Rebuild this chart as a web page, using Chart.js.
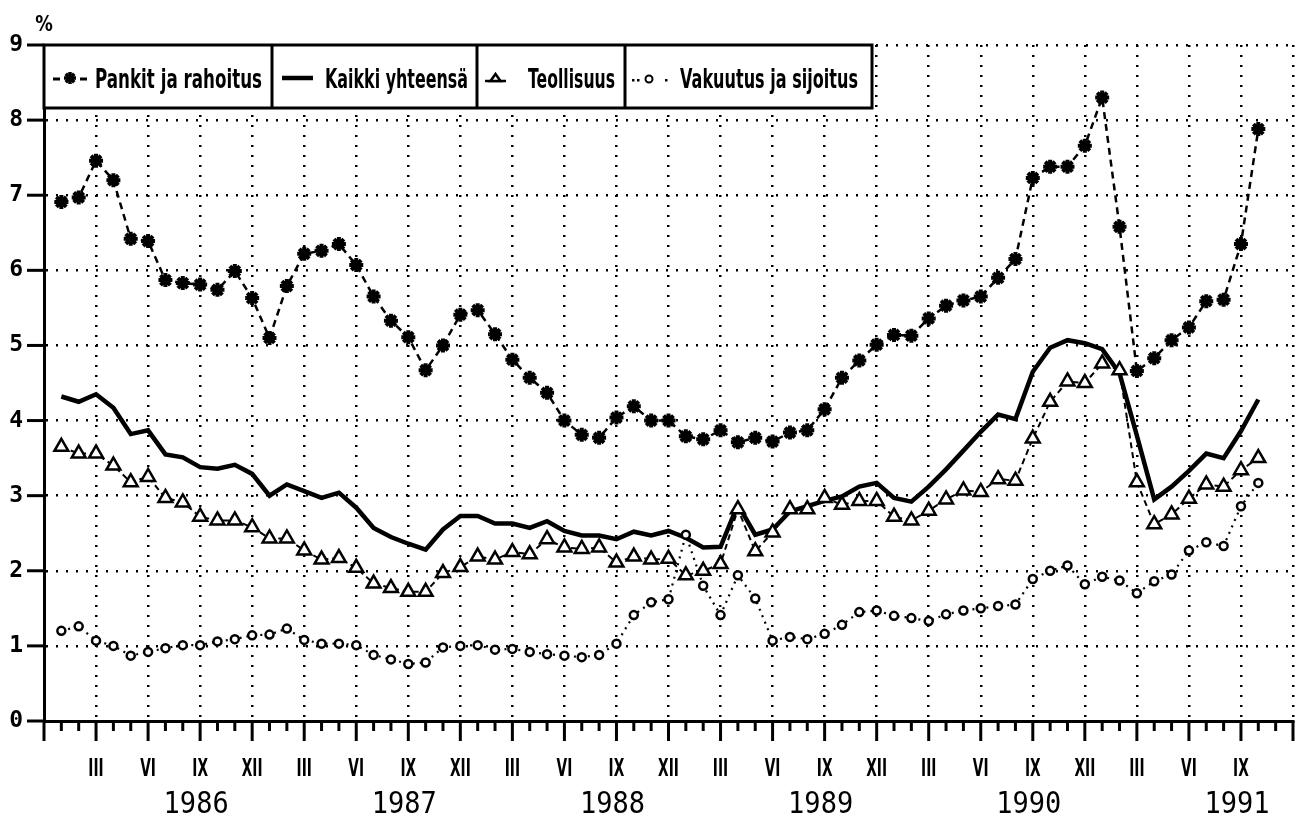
<!DOCTYPE html>
<html lang="fi">
<head>
  <meta charset="UTF-8">
  <title>Pankit ja rahoitus, Kaikki yhteensä, Teollisuus, Vakuutus ja sijoitus</title>
  <script src="https://cdn.jsdelivr.net/npm/chart.js"></script>
  <style>
    body { margin: 0; background: #fff; }
    #wrap { width: 1304px; height: 819px; position: relative; }
  </style>
</head>
<body>
  <div id="wrap"><canvas id="grafiikka"></canvas></div>

  <script>
    // kuukaudet 1/1986 - 10/1991
    const months = [
      '1986-01','1986-02','1986-03','1986-04','1986-05','1986-06','1986-07','1986-08','1986-09','1986-10','1986-11','1986-12',
      '1987-01','1987-02','1987-03','1987-04','1987-05','1987-06','1987-07','1987-08','1987-09','1987-10','1987-11','1987-12',
      '1988-01','1988-02','1988-03','1988-04','1988-05','1988-06','1988-07','1988-08','1988-09','1988-10','1988-11','1988-12',
      '1989-01','1989-02','1989-03','1989-04','1989-05','1989-06','1989-07','1989-08','1989-09','1989-10','1989-11','1989-12',
      '1990-01','1990-02','1990-03','1990-04','1990-05','1990-06','1990-07','1990-08','1990-09','1990-10','1990-11','1990-12',
      '1991-01','1991-02','1991-03','1991-04','1991-05','1991-06','1991-07','1991-08','1991-09','1991-10'
    ];

    const pankit = [
      6.91, 6.97, 7.46, 7.20, 6.42, 6.39, 5.87, 5.83, 5.81, 5.74, 5.99, 5.63,
      5.10, 5.79, 6.22, 6.26, 6.35, 6.07, 5.65, 5.33, 5.11, 4.67, 5.00, 5.41,
      5.47, 5.15, 4.81, 4.57, 4.37, 4.00, 3.81, 3.77, 4.04, 4.19, 4.00, 4.00,
      3.79, 3.75, 3.87, 3.71, 3.77, 3.72, 3.84, 3.87, 4.15, 4.57, 4.80, 5.01,
      5.14, 5.13, 5.36, 5.53, 5.60, 5.65, 5.90, 6.15, 7.23, 7.38, 7.38, 7.66,
      8.30, 6.58, 4.66, 4.83, 5.07, 5.24, 5.59, 5.61, 6.35, 7.88
    ];
    const kaikki = [
      4.32, 4.25, 4.35, 4.17, 3.82, 3.87, 3.55, 3.51, 3.38, 3.36, 3.41, 3.29,
      3.00, 3.15, 3.06, 2.97, 3.04, 2.84, 2.57, 2.45, 2.36, 2.28, 2.55, 2.73,
      2.73, 2.63, 2.63, 2.57, 2.66, 2.53, 2.47, 2.47, 2.42, 2.52, 2.47, 2.53,
      2.44, 2.31, 2.32, 2.88, 2.48, 2.55, 2.79, 2.86, 2.93, 2.99, 3.12, 3.17,
      2.97, 2.92, 3.12, 3.35, 3.60, 3.85, 4.08, 4.02, 4.65, 4.97, 5.07, 5.03,
      4.95, 4.63, 3.80, 2.95, 3.12, 3.33, 3.56, 3.50, 3.86, 4.28
    ];
    const teollisuus = [
      3.65, 3.56, 3.56, 3.40, 3.18, 3.25, 2.97, 2.91, 2.72, 2.67, 2.67, 2.58,
      2.43, 2.43, 2.27, 2.15, 2.17, 2.04, 1.83, 1.77, 1.72, 1.72, 1.97, 2.05,
      2.19, 2.15, 2.25, 2.22, 2.42, 2.31, 2.29, 2.31, 2.11, 2.19, 2.15, 2.16,
      1.94, 2.00, 2.09, 2.82, 2.26, 2.51, 2.82, 2.82, 2.97, 2.88, 2.93, 2.93,
      2.72, 2.67, 2.80, 2.95, 3.07, 3.05, 3.22, 3.20, 3.76, 4.25, 4.52, 4.50,
      4.76, 4.67, 3.18, 2.62, 2.75, 2.96, 3.15, 3.12, 3.34, 3.50
    ];
    const vakuutus = [
      1.20, 1.26, 1.07, 1.00, 0.87, 0.92, 0.97, 1.01, 1.01, 1.06, 1.09, 1.14,
      1.15, 1.23, 1.08, 1.03, 1.03, 1.01, 0.88, 0.82, 0.76, 0.78, 0.98, 1.00,
      1.01, 0.95, 0.96, 0.92, 0.89, 0.87, 0.85, 0.88, 1.03, 1.41, 1.58, 1.62,
      2.48, 1.80, 1.41, 1.94, 1.63, 1.07, 1.12, 1.09, 1.16, 1.28, 1.45, 1.47,
      1.40, 1.37, 1.33, 1.42, 1.47, 1.50, 1.53, 1.55, 1.89, 2.00, 2.07, 1.82,
      1.92, 1.87, 1.70, 1.86, 1.95, 2.27, 2.38, 2.33, 2.86, 3.17
    ];

    const quarterLabels = ['III', 'VI', 'IX', 'XII'];
    const yearLabels = ['1986', '1987', '1988', '1989', '1990', '1991'];
    const yTicks = [0, 1, 2, 3, 4, 5, 6, 7, 8, 9];
    const seriesNames = ['Pankit ja rahoitus', 'Kaikki yhteensä', 'Teollisuus', 'Vakuutus ja sijoitus'];

    // kuukausi-indeksi: 0 = joulukuu 1985
    function monthPos(m) {
      const osat = m.split('-');
      return (Number(osat[0]) - 1986) * 12 + Number(osat[1]);
    }
    function pisteet(arvot) {
      return arvot.map(function (v, i) { return { x: monthPos(months[i]), y: v }; });
    }

    function kapeaTeksti(ctx, text, x, y, font, sx, align) {
      ctx.save();
      ctx.font = font;
      ctx.translate(x, y);
      ctx.scale(sx, 1);
      ctx.textAlign = align || 'center';
      ctx.textBaseline = 'alphabetic';
      ctx.fillStyle = '#000';
      ctx.fillText(text, 0, 0);
      ctx.restore();
    }
    function sovitaTeksti(ctx, text, left, right, y, font) {
      ctx.save();
      ctx.font = font;
      const w = ctx.measureText(text).width;
      ctx.restore();
      kapeaTeksti(ctx, text, left, y, font, (right - left) / w, 'left');
    }
    function viiva(ctx, x1, y1, x2, y2) {
      ctx.beginPath();
      ctx.moveTo(x1, y1);
      ctx.lineTo(x2, y2);
      ctx.stroke();
    }
    function tahti(ctx, x, y, r) {
      for (let a = 0; a < 4; a++) {
        const k = a * Math.PI / 4;
        viiva(ctx, x - Math.cos(k) * r, y - Math.sin(k) * r, x + Math.cos(k) * r, y + Math.sin(k) * r);
      }
    }

    // akselin merkit, roomalaiset kuukaudet ja vuodet
    const akseliKoristeet = {
      id: 'akseliKoristeet',
      afterDraw(chart) {
        const ctx = chart.ctx;
        const x = chart.scales.x;
        const y = chart.scales.y;
        const base = y.getPixelForValue(0);
        ctx.save();
        ctx.strokeStyle = '#000';
        ctx.lineWidth = 3;
        for (let k = 0; k <= 72; k++) {
          const px = x.getPixelForValue(k);
          viiva(ctx, px, base, px, base + (k % 3 === 0 ? 20 : 10));
        }
        yTicks.forEach(function (v) {
          const py = y.getPixelForValue(v);
          viiva(ctx, 27, py, chart.chartArea.left, py);
        });
        for (let k = 3; k < 72; k += 3) {
          const lab = quarterLabels[(k / 3 - 1) % 4];
          kapeaTeksti(ctx, lab, x.getPixelForValue(k), 776, 'bold 25px "DejaVu Sans"', 0.55);
        }
        yearLabels.forEach(function (yr, i) {
          kapeaTeksti(ctx, yr, x.getPixelForValue(9 + 12 * i) - 4, 813, '30px "DejaVu Sans Mono"', 0.9);
        });
        kapeaTeksti(ctx, '%', 44, 31, 'bold 22px "DejaVu Sans"', 0.8);
        ctx.restore();
      }
    };

    // selitelaatikko kuvan vasemmassa yläkulmassa
    const selite = {
      id: 'selite',
      afterDraw(chart) {
        const ctx = chart.ctx;
        const L = chart.chartArea.left, T = chart.chartArea.top;
        const R = 872, B = 108;
        ctx.save();
        ctx.fillStyle = '#fff';
        ctx.fillRect(L, T, R - L, B - T);
        ctx.strokeStyle = '#000';
        ctx.lineWidth = 3;
        ctx.strokeRect(L, T, R - L, B - T);
        [272, 477, 625].forEach(function (sx) { viiva(ctx, sx, T, sx, B); });

        const cy = 78;
        // pankit
        ctx.lineWidth = 3;
        viiva(ctx, 53, cy + 1, 60, cy + 1);
        viiva(ctx, 80, cy + 1, 87, cy + 1);
        ctx.lineWidth = 3.5;
        tahti(ctx, 70, cy, 6);
        // kaikki
        ctx.lineWidth = 4.5;
        viiva(ctx, 282, cy, 313, cy);
        // teollisuus
        ctx.lineWidth = 2.5;
        viiva(ctx, 485, cy + 3, 506, cy + 3);
        ctx.beginPath();
        ctx.moveTo(495.5, cy - 4);
        ctx.lineTo(500.5, cy + 3);
        ctx.lineTo(490.5, cy + 3);
        ctx.closePath();
        ctx.fillStyle = '#fff';
        ctx.fill();
        ctx.stroke();
        // vakuutus
        ctx.fillStyle = '#000';
        ctx.fillRect(632, cy + 1, 2.5, 2.5);
        ctx.fillRect(637, cy + 1, 2.5, 2.5);
        ctx.fillRect(665, cy + 1, 2.5, 2.5);
        ctx.lineWidth = 2;
        ctx.beginPath();
        ctx.arc(649, cy + 1, 3.5, 0, Math.PI * 2);
        ctx.stroke();

        const f = 'bold 27px "DejaVu Sans"';
        sovitaTeksti(ctx, seriesNames[0], 95, 262, 88, f);
        sovitaTeksti(ctx, seriesNames[1], 325, 468, 88, f);
        sovitaTeksti(ctx, seriesNames[2], 528, 615, 88, f);
        sovitaTeksti(ctx, seriesNames[3], 680, 858, 88, f);
        ctx.restore();
      }
    };

    const ctx = document.getElementById('grafiikka').getContext('2d');
    const grafiikka = new Chart(ctx, {
      type: 'line',
      data: {
        datasets: [
          {
            label: seriesNames[0],
            data: pisteet(pankit),
            borderColor: '#000',
            borderWidth: 2.5,
            borderDash: [7, 5],
            pointStyle: 'star',
            pointRadius: 7,
            pointBorderWidth: 4,
            pointBorderColor: '#000',
            order: 0
          },
          {
            label: seriesNames[1],
            data: pisteet(kaikki),
            borderColor: '#000',
            borderWidth: 4.5,
            pointRadius: 0,
            order: 3
          },
          {
            label: seriesNames[2],
            data: pisteet(teollisuus),
            borderColor: '#000',
            borderWidth: 2,
            borderDash: [6, 4],
            pointStyle: 'triangle',
            pointRadius: 8,
            pointBorderWidth: 2.5,
            pointBorderColor: '#000',
            pointBackgroundColor: '#fff',
            order: 1
          },
          {
            label: seriesNames[3],
            data: pisteet(vakuutus),
            borderColor: '#000',
            borderWidth: 2.2,
            borderDash: [2, 5],
            pointStyle: 'circle',
            pointRadius: 4,
            pointBorderWidth: 2.5,
            pointBorderColor: '#000',
            pointBackgroundColor: '#fff',
            order: 2
          }
        ]
      },
      options: {
        responsive: true,
        maintainAspectRatio: false,
        animation: false,
        layout: { padding: { left: 0, right: 4, top: 45, bottom: 0 } },
        plugins: {
          legend: { display: false },
          tooltip: { enabled: false }
        },
        elements: { line: { tension: 0 } },
        scales: {
          x: {
            type: 'linear',
            min: 0,
            max: 72,
            ticks: { display: false, stepSize: 1, autoSkip: false, maxTicksLimit: 100 },
            grid: {
              drawTicks: false,
              lineWidth: 2.5,
              color: function (c) {
                return (c.tick && c.tick.value > 0 && c.tick.value % 3 === 0) ? '#000' : 'rgba(0,0,0,0)';
              }
            },
            border: { display: true, color: '#000', width: 3, dash: [2, 8] },
            afterFit: function (scale) { scale.height = 98; }
          },
          y: {
            min: 0,
            max: 9,
            ticks: {
              stepSize: 1,
              padding: 21,
              color: '#000',
              font: { family: 'DejaVu Sans Mono', size: 23, weight: 'bold' },
              callback: function (v) { return yTicks.indexOf(v) >= 0 ? String(v) : ''; }
            },
            grid: {
              drawTicks: false,
              lineWidth: 2.5,
              color: function (c) {
                return (c.tick && c.tick.value > 0) ? '#000' : 'rgba(0,0,0,0)';
              }
            },
            border: { display: true, color: '#000', width: 3, dash: [2, 8] },
            afterFit: function (scale) { scale.width = 44; }
          }
        }
      },
      plugins: [akseliKoristeet, selite]
    });
  </script>
</body>
</html>
